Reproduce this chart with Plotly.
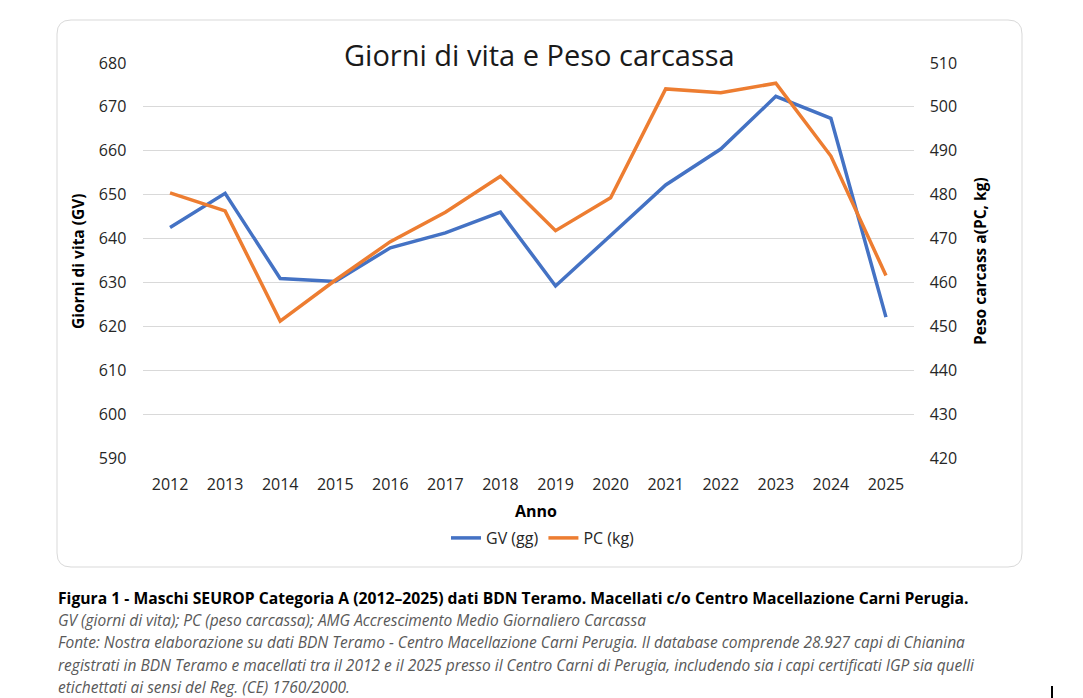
import plotly.graph_objects as go

# ---- data ----
anni = ['2012', '2013', '2014', '2015', '2016', '2017', '2018',
        '2019', '2020', '2021', '2022', '2023', '2024', '2025']
gv_gg = [642.5, 650.3, 630.9, 630.2, 637.9, 641.3, 646.0,
         629.2, 640.7, 652.2, 660.4, 672.4, 667.4, 622.1]
pc_kg = [480.4, 476.3, 451.2, 460.5, 469.3, 476.0, 484.2,
         471.8, 479.3, 504.1, 503.2, 505.4, 488.8, 461.6]
gv_ticks = [590, 600, 610, 620, 630, 640, 650, 660, 670, 680]
pc_ticks = [420, 430, 440, 450, 460, 470, 480, 490, 500, 510]

W, H = 1083, 698
BLUE = '#4472C4'
ORANGE = '#ED7D31'
FONT = 'Open Sans'
TXT = '#262626'


def px_x(x):
    return x / W


def px_y(y):
    return 1 - y / H


fig = go.Figure()
fig.add_trace(go.Scatter(x=anni, y=gv_gg, name='GV (gg)', mode='lines',
                         line=dict(color=BLUE, width=3.5), yaxis='y'))
fig.add_trace(go.Scatter(x=anni, y=pc_kg, name='PC (kg)', mode='lines',
                         line=dict(color=ORANGE, width=3.5), yaxis='y2'))

tickfont = dict(family=FONT, size=16, color=TXT)

fig.update_layout(
    width=W, height=H,
    margin=dict(l=0, r=0, t=0, b=0),
    paper_bgcolor='white', plot_bgcolor='white',
    showlegend=True,
    legend=dict(orientation='h', x=px_x(543), xanchor='center',
                y=px_y(538), yanchor='middle',
                font=dict(family=FONT, size=16, color=TXT),
                itemwidth=30, bgcolor='rgba(0,0,0,0)'),
    xaxis=dict(domain=[px_x(142.5), px_x(913.5)], type='category',
               range=[-0.5, len(anni) - 0.5],
               showgrid=False, showline=False, zeroline=False,
               ticks='outside', ticklen=12, tickcolor='rgba(0,0,0,0)',
               tickfont=tickfont, automargin=False),
    yaxis=dict(domain=[px_y(458), px_y(63)], range=[590, 680],
               tickvals=gv_ticks, showgrid=True, gridcolor='#D9D9D9',
               gridwidth=1, zeroline=False, showline=False,
               ticks='outside', ticklen=12, tickcolor='rgba(0,0,0,0)',
               tickfont=tickfont, automargin=False),
    yaxis2=dict(overlaying='y', side='right', range=[420, 510],
                tickvals=pc_ticks, showgrid=False, zeroline=False,
                showline=False, ticks='outside', ticklen=12,
                tickcolor='rgba(0,0,0,0)', tickfont=tickfont,
                automargin=False),
)

# rounded chart frame
x0, y0, x1, y1, r = px_x(57), px_y(20), px_x(1022), px_y(567), 14
rx, ry = r / W, r / H
path = (f'M {x0 + rx},{y0} L {x1 - rx},{y0} Q {x1},{y0} {x1},{y0 - ry} '
        f'L {x1},{y1 + ry} Q {x1},{y1} {x1 - rx},{y1} '
        f'L {x0 + rx},{y1} Q {x0},{y1} {x0},{y1 + ry} '
        f'L {x0},{y0 - ry} Q {x0},{y0} {x0 + rx},{y0} Z')
fig.add_shape(type='path', path=path, xref='paper', yref='paper',
              line=dict(color='#D9D9D9', width=1), layer='below')

# cursor mark at bottom right
fig.add_shape(type='line', xref='paper', yref='paper',
              x0=px_x(1052), x1=px_x(1052), y0=px_y(686), y1=px_y(698),
              line=dict(color='black', width=2))

ann = dict(xref='paper', yref='paper', showarrow=False)
fig.add_annotation(text='Giorni di vita e Peso carcassa', x=px_x(539), y=px_y(55),
                   xanchor='center', yanchor='middle',
                   font=dict(family=FONT, size=29, color='#1a1a1a'), **ann)
fig.add_annotation(text='<b>Giorni di vita (GV)</b>', x=px_x(78), y=px_y(261),
                   textangle=-90, xanchor='center', yanchor='middle',
                   font=dict(family=FONT, size=15.5, color='black'), **ann)
fig.add_annotation(text='<b>Peso carcass a(PC, kg)</b>', x=px_x(980), y=px_y(261),
                   textangle=-90, xanchor='center', yanchor='middle',
                   font=dict(family=FONT, size=15.5, color='black'), **ann)
fig.add_annotation(text='<b>Anno</b>', x=px_x(536), y=px_y(511),
                   xanchor='center', yanchor='middle',
                   font=dict(family=FONT, size=16, color='black'), **ann)

# caption below the chart
fig.add_annotation(text='<b>Figura 1 - Maschi SEUROP Categoria A (2012–2025) dati BDN Teramo. '
                        'Macellati c/o Centro Macellazione Carni Perugia.</b>',
                   x=px_x(56), y=px_y(598), xanchor='left', yanchor='middle',
                   font=dict(family=FONT, size=15.7, color='black'), **ann)
caption_lines = [
    'GV (giorni di vita); PC (peso carcassa); AMG Accrescimento Medio Giornaliero Carcassa',
    'Fonte: Nostra elaborazione su dati BDN Teramo - Centro Macellazione Carni Perugia. '
    'Il database comprende 28.927 capi di Chianina',
    'registrati in BDN Teramo e macellati tra il 2012 e il 2025 presso il Centro Carni di Perugia, '
    'includendo sia i capi certificati IGP sia quelli',
    'etichettati ai sensi del Reg. (CE) 1760/2000.',
]
for i, line in enumerate(caption_lines):
    fig.add_annotation(text=f'<i>{line}</i>', x=px_x(56), y=px_y(620 + 22.3 * i),
                       xanchor='left', yanchor='middle',
                       font=dict(family=FONT, size=15.5, color='#595959'), **ann)

fig.write_html('out.html', config={'displayModeBar': False},
               post_script="document.body.style.margin='0';")
